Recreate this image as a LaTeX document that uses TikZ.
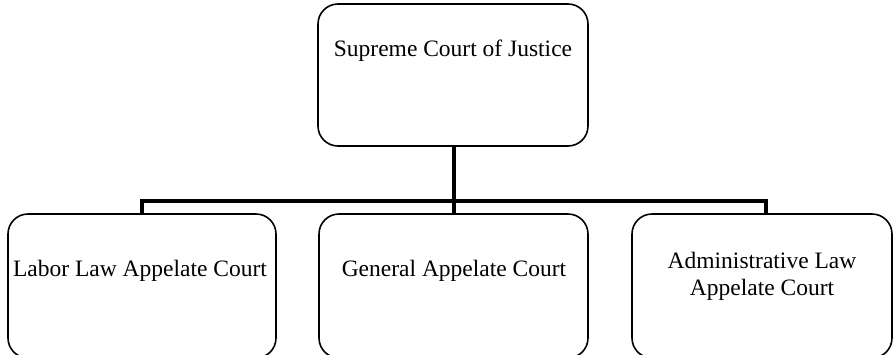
\documentclass[tikz,border=0pt]{standalone}
\usepackage{fontspec}
\setmainfont{Liberation Serif}
\begin{document}
\begin{tikzpicture}[x=1pt,y=-1pt,
  court/.style={draw=black,line width=1.6pt,rounded corners=20pt},
  lbl/.style={font=\fontsize{23.5}{27}\selectfont,align=center},
  conn/.style={draw=black,line width=3.2pt}]
\useasboundingbox (0,0) rectangle (894,354);
\draw[court] (318,4) rectangle (588,146);
\node[lbl] (sup) at (453,51) {Supreme Court of Justice};
\coordinate (supB) at (454,146);
\draw[court] (8,214) rectangle (276,358);
\draw[court] (319,214) rectangle (588,358);
\draw[court] (632,214) rectangle (892,358);
\node[lbl] (lab) at (140,271) {Labor Law Appelate Court};
\node[lbl] (gen) at (454,271) {General Appelate Court};
\node[lbl] (adm) at (762,276) {Administrative Law\\Appelate Court};
\coordinate (labT) at (142,214);
\coordinate (genT) at (454,214);
\coordinate (admT) at (766,214);
\coordinate (busL) at (142,201);
\coordinate (busM) at (454,201);
\coordinate (busR) at (766,201);
\draw[conn] (supB) -- (busM);
\draw[conn] (labT) -- (busL) -- (busR) -- (admT);
\draw[conn] (busM) -- (genT);
\end{tikzpicture}
\end{document}
